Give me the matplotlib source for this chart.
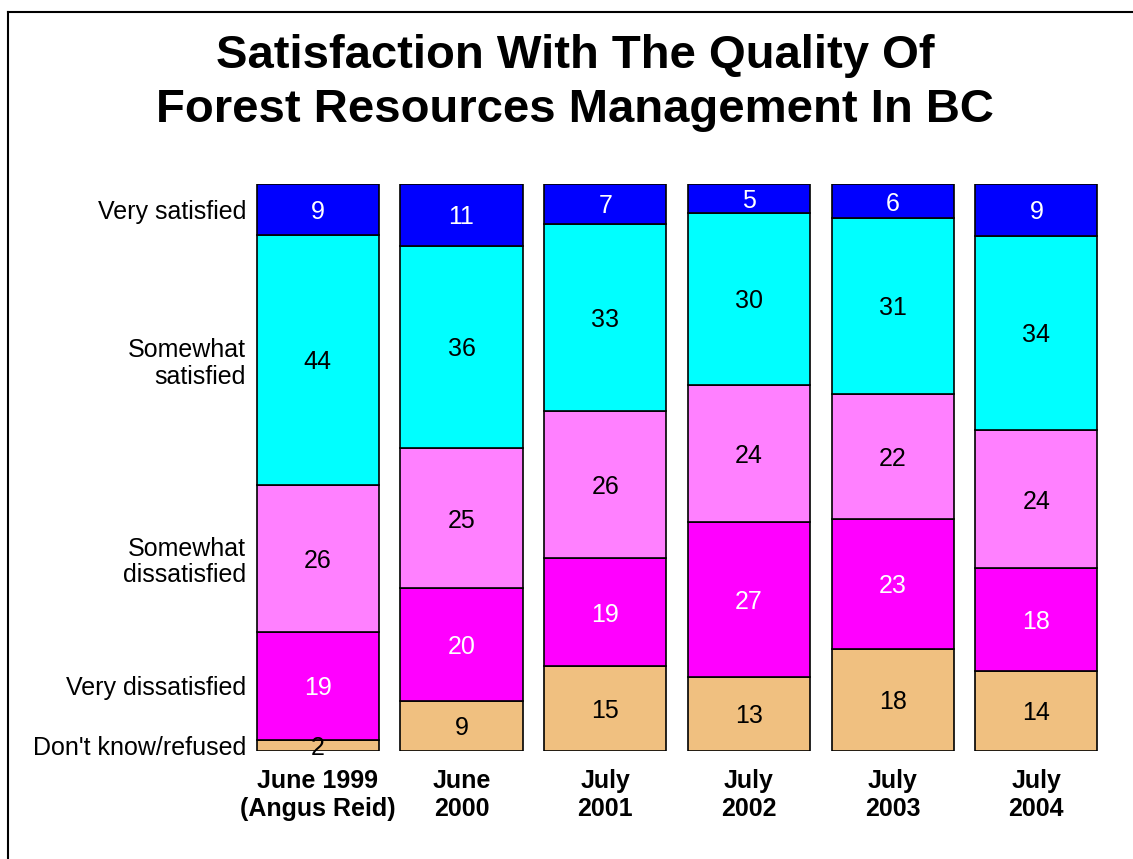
import matplotlib.pyplot as plt
import numpy as np
from matplotlib.lines import Line2D

plt.rcParams["font.family"] = ["Liberation Sans", "DejaVu Sans"]

# Data (bottom to top of each bar)
surveys = ["June 1999\n(Angus Reid)", "June\n2000", "July\n2001",
           "July\n2002", "July\n2003", "July\n2004"]
categories = ["Don't know/refused", "Very dissatisfied",
              "Somewhat\ndissatisfied", "Somewhat\nsatisfied", "Very satisfied"]
dont_know = [2, 9, 15, 13, 18, 14]
very_dissat = [19, 20, 19, 27, 23, 18]
some_dissat = [26, 25, 26, 24, 22, 24]
some_sat = [44, 36, 33, 30, 31, 34]
very_sat = [9, 11, 7, 5, 6, 9]

colors = ["#F0C080", "#FF00FF", "#FF80FF", "#00FFFF", "#0000FF"]
text_colors = ["black", "white", "black", "black", "white"]

series = np.array([dont_know, very_dissat, some_dissat, some_sat, very_sat], dtype=float)
# Each bar is drawn to full height, so scale columns to 100
scaled = series / series.sum(axis=0) * 100

fig = plt.figure(figsize=(11.33, 8.59), dpi=100)
ax = fig.add_axes([0.2171, 0.1257, 0.761, 0.660])

x = np.arange(len(surveys))
bottom = np.zeros(len(surveys))
for i in range(len(categories)):
    ax.bar(x, scaled[i], bottom=bottom, width=0.85, color=colors[i],
           edgecolor="black", linewidth=1.2)
    for j in range(len(surveys)):
        ax.text(x[j], bottom[j] + scaled[i][j] / 2, f"{int(series[i][j])}",
                ha="center", va="center_baseline", fontsize=18, color=text_colors[i])
    bottom += scaled[i]

# Category labels sit at the segment centres of the first bar
first = scaled[:, 0]
centres = np.cumsum(first) - first / 2
ax.set_yticks(centres)
ax.set_yticklabels(categories, fontsize=18, linespacing=1.13)
ax.set_xticks(x)
ax.set_xticklabels(surveys, fontsize=18, fontweight="bold", linespacing=1.2)
ax.tick_params(axis="both", length=0)
ax.tick_params(axis="y", pad=0)
ax.tick_params(axis="x", pad=13)

ax.set_xlim(-0.5, 5.5)
ax.set_ylim(0, 100)
for spine in ax.spines.values():
    spine.set_visible(False)

fig.text(0.5075, 1 - 83 / 859, "Satisfaction With The Quality Of\nForest Resources Management In BC",
         ha="center", va="center", fontsize=34, fontweight="bold", linespacing=1.27)

# Frame lines at left and top of the picture
fig.add_artist(Line2D([8 / 1133, 8 / 1133], [0, 1 - 12 / 859], color="black", linewidth=1.5))
fig.add_artist(Line2D([8 / 1133, 1], [1 - 12 / 859, 1 - 12 / 859], color="black", linewidth=1.5))

fig.savefig("out.png", dpi=100)
